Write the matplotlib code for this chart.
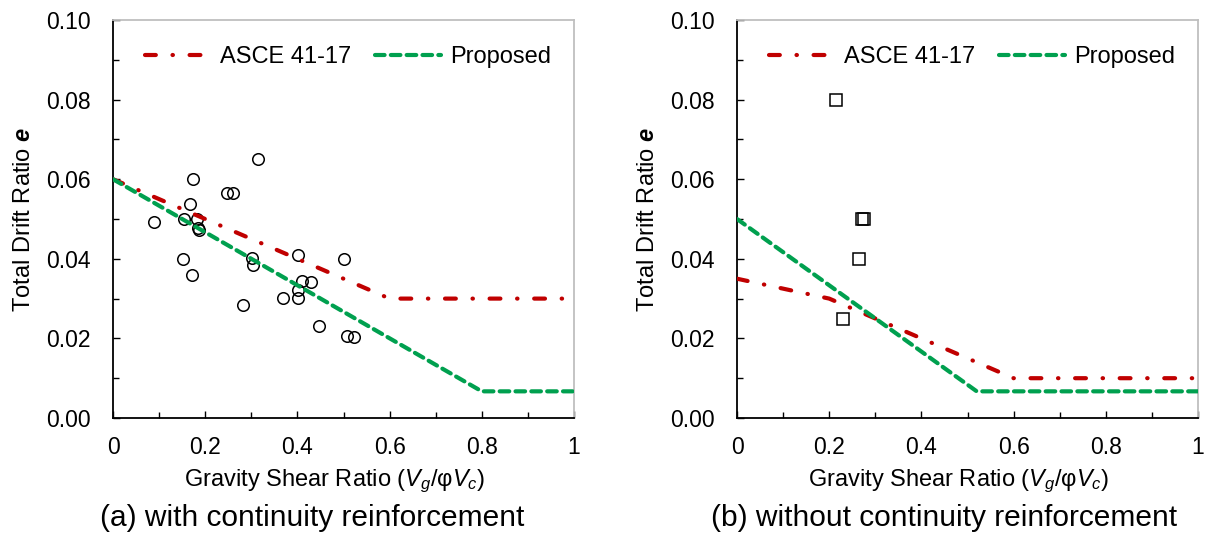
import matplotlib
matplotlib.use("Agg")
import matplotlib.pyplot as plt
from matplotlib.ticker import MultipleLocator, FuncFormatter

plt.rcParams['font.family'] = ['Liberation Sans', 'DejaVu Sans']
plt.rcParams['mathtext.fontset'] = 'custom'
plt.rcParams['mathtext.rm'] = 'Liberation Sans'
plt.rcParams['mathtext.it'] = 'Liberation Sans:italic'
plt.rcParams['mathtext.bf'] = 'Liberation Sans:bold:italic'

# ---- data: (a) with continuity reinforcement ----
a_test_x = [0.314, 0.174, 0.247, 0.261, 0.167, 0.088, 0.153, 0.183, 0.185, 0.187,
            0.151, 0.172, 0.3015, 0.3037, 0.401, 0.502, 0.409, 0.430, 0.4006,
            0.4006, 0.368, 0.281, 0.446, 0.507, 0.523]
a_test_y = [0.065, 0.060, 0.0566, 0.0566, 0.0538, 0.0492, 0.0499, 0.0501, 0.0477, 0.0472,
            0.040, 0.0359, 0.0402, 0.0385, 0.041, 0.040, 0.0345, 0.0341, 0.0321,
            0.0301, 0.0301, 0.0285, 0.0231, 0.0206, 0.0203]
a_asce_x = [0.0, 0.6, 1.0]
a_asce_y = [0.06, 0.03, 0.03]
a_prop_x = [0.0, 0.8, 1.0]
a_prop_y = [0.06, 0.0067, 0.0067]

# ---- data: (b) without continuity reinforcement ----
b_test_x = [0.215, 0.272, 0.276, 0.265, 0.229]
b_test_y = [0.080, 0.050, 0.050, 0.040, 0.025]
b_asce_x = [0.0, 0.2, 0.6, 1.0]
b_asce_y = [0.035, 0.03, 0.01, 0.01]
b_prop_x = [0.0, 0.52, 1.0]
b_prop_y = [0.05, 0.0067, 0.0067]

xticks = [0, 0.2, 0.4, 0.6, 0.8, 1]
yticks = [0.00, 0.02, 0.04, 0.06, 0.08, 0.10]

legend_labels = ["ASCE 41-17", "Proposed"]
captions = ["(a) with continuity reinforcement", "(b) without continuity reinforcement"]

RED = '#C00000'
GREEN = '#00A04F'

fig = plt.figure(figsize=(12.08, 5.34), dpi=100)
W, H = 1208, 534
ax_a = fig.add_axes([113 / W, (534 - 418) / H, 461 / W, 398 / H])
ax_b = fig.add_axes([737 / W, (534 - 418) / H, 461 / W, 398 / H])


def xfmt(v, pos):
    if abs(v) < 1e-9:
        return '0'
    if abs(v - 1) < 1e-9:
        return '1'
    return '%.1f' % v


def draw(ax, tx, ty, marker, ax_x, ax_y, px, py, caption, cap_x):
    ax.plot(tx, ty, linestyle='none', marker=marker, markersize=8.3,
            markerfacecolor='none', markeredgecolor='black', markeredgewidth=1.1,
            zorder=2)
    ax.plot(ax_x, ax_y, color=RED, lw=3.0, dashes=(2.6, 4.0, 0.1, 4.0),
            dash_capstyle='round', label=legend_labels[0], zorder=3)
    ax.plot(px, py, color=GREEN, lw=3.0, dashes=(2.3, 1.5),
            dash_capstyle='round', label=legend_labels[1], zorder=3)
    ax.set_xlim(0, 1)
    ax.set_ylim(0, 0.10)
    ax.set_xticks(xticks)
    ax.set_yticks(yticks)
    ax.xaxis.set_minor_locator(MultipleLocator(0.1))
    ax.yaxis.set_minor_locator(MultipleLocator(0.01))
    ax.xaxis.set_major_formatter(FuncFormatter(xfmt))
    ax.yaxis.set_major_formatter(FuncFormatter(lambda v, p: '%.2f' % v))
    ax.tick_params(axis='both', which='both', direction='in', width=1.0,
                   colors='black', labelsize=16.5)
    ax.tick_params(axis='both', which='major', length=5)
    ax.tick_params(axis='both', which='minor', length=4)
    ax.tick_params(axis='x', which='major', pad=13)
    ax.tick_params(axis='y', which='major', pad=16)
    for s in ['left', 'bottom']:
        ax.spines[s].set_color('black')
        ax.spines[s].set_linewidth(1.3)
    for s in ['top', 'right']:
        ax.spines[s].set_color('#BFBFBF')
        ax.spines[s].set_linewidth(1.3)
    ax.set_xlabel(r'Gravity Shear Ratio ($V_g$/φ$V_c$)', fontsize=17, labelpad=5)
    ax.xaxis.set_label_coords(0.48, -0.125)
    ax.set_ylabel(r'Total Drift Ratio $\mathbf{e}$', fontsize=17, labelpad=8)
    ax.legend(loc='center', bbox_to_anchor=(0.51, 0.907), ncol=2, frameon=False,
              fontsize=17, handlelength=2.8, handletextpad=0.4, columnspacing=1.0,
              borderaxespad=0)
    ax.text(cap_x, -0.25, caption, transform=ax.transAxes, ha='center', va='center',
            fontsize=21.5)


draw(ax_a, a_test_x, a_test_y, 'o', a_asce_x, a_asce_y, a_prop_x, a_prop_y, captions[0], 0.432)
draw(ax_b, b_test_x, b_test_y, 's', b_asce_x, b_asce_y, b_prop_x, b_prop_y, captions[1], 0.45)

fig.savefig('out.png', dpi=100)
